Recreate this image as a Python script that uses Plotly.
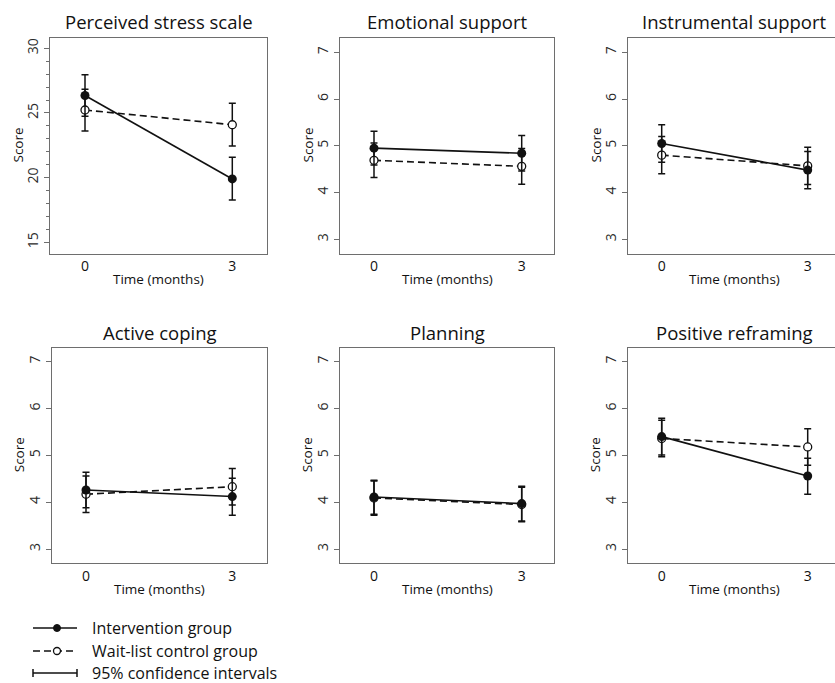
import plotly.graph_objects as go

# ---------------- data ----------------
panel_titles = ["Perceived stress scale", "Emotional support", "Instrumental support",
                "Active coping", "Planning", "Positive reframing"]
time_months = [0, 3]
time_labels = ["0", "3"]

int_mean = [[26.35, 19.9], [4.95, 4.84], [5.05, 4.48], [4.26, 4.12], [4.11, 3.97], [5.40, 4.56]]
int_lo   = [[24.75, 18.27], [4.59, 4.46], [4.65, 4.08], [3.88, 3.72], [3.74, 3.60], [5.01, 4.17]]
int_hi   = [[27.95, 21.57], [5.31, 5.22], [5.45, 4.88], [4.64, 4.51], [4.47, 4.34], [5.79, 4.94]]

ctl_mean = [[25.23, 24.09], [4.69, 4.56], [4.80, 4.57], [4.17, 4.33], [4.09, 3.95], [5.36, 5.18]]
ctl_lo   = [[23.6, 22.44], [4.32, 4.18], [4.40, 4.17], [3.78, 3.94], [3.72, 3.58], [4.97, 4.79]]
ctl_hi   = [[26.83, 25.75], [5.06, 4.94], [5.20, 4.97], [4.56, 4.72], [4.45, 4.32], [5.75, 5.57]]

legend_labels = ["Intervention group", "Wait-list control group", "95% confidence intervals"]

# ---------------- layout helpers ----------------
W, H = 835, 683
FONT = "Open Sans"
DARK = "#111111"
FRAME = "#6e6e6e"


def px(x):
    return x / W


def py(y):
    return 1 - y / H


# panel frames in pixels: (left, right, top, bottom)
frames = [
    (50, 267, 37.5, 253.5), (340, 554, 37.5, 253.5), (628, 840, 37.5, 253.5),
    (52, 267, 347.5, 563), (340, 554, 347.5, 563), (628, 840, 347.5, 563),
]
# pixel location of x=0 and x=3 in each panel
xpix = [(85, 232.3), (374, 521.7), (661.7, 807.7), (86, 232.3), (374, 521.7), (661.7, 807.7)]
# pixel location of y tick anchors (value, pixel) pairs
yref = [((30, 48.3), (15, 242.3)), ((7, 52.3), (3, 239.3)), ((7, 52.3), (3, 239.3)),
        ((7, 361.7), (3, 549)), ((7, 361.7), (3, 549)), ((7, 361.7), (3, 549))]

fig = go.Figure()
layout = dict(
    width=W, height=H, margin=dict(l=0, r=0, t=0, b=0),
    paper_bgcolor="white", plot_bgcolor="white", showlegend=False,
    font=dict(family=FONT, color=DARK),
)
annotations = []
shapes = []

for i in range(6):
    ax = "" if i == 0 else str(i + 1)
    L, R, T, B = frames[i]
    Rv = min(R, W)
    x0p, x3p = xpix[i]
    sx = (x3p - x0p) / 3.0
    xr = [(L - x0p) / sx, (Rv - x0p) / sx]
    (va, pa), (vb, pb) = yref[i]
    sy = (pb - pa) / (va - vb)
    yr = [vb - (B - pb) / sy, va + (pa - T) / sy]

    xa = dict(domain=[px(L), px(Rv)], range=xr, tickvals=time_months, ticktext=time_labels,
              ticks="", showline=True, linecolor=FRAME, linewidth=1.3, mirror=True,
              showgrid=False, zeroline=False, anchor="y" + ax,
              tickfont=dict(size=14, color=DARK, family=FONT))
    ya = dict(domain=[py(B), py(T)], range=yr, tickangle=-90,
              ticks="outside", ticklen=5, tickcolor=FRAME, tickwidth=1.2,
              showline=True, linecolor=FRAME, linewidth=1.3, mirror=(R <= W),
              showgrid=False, zeroline=False, anchor="x" + ax,
              tickfont=dict(size=14, color="#2a2a2a", family=FONT))
    if i == 0:
        ya.update(tickvals=[15, 20, 25, 30],
                  minor=dict(dtick=1, tick0=15, ticks="outside", ticklen=3,
                             tickcolor=FRAME, tickwidth=1.1))
    else:
        ya.update(tickvals=[3, 4, 5, 6, 7])
    layout["xaxis" + ax] = xa
    layout["yaxis" + ax] = ya

    # control group (dashed, open circles)
    fig.add_trace(go.Scatter(
        x=time_months, y=ctl_mean[i], mode="lines+markers", xaxis="x" + ax, yaxis="y" + ax,
        line=dict(color=DARK, width=1.6, dash="7px,4px"),
        marker=dict(symbol="circle", size=8, color="white", line=dict(color=DARK, width=1.3)),
        error_y=dict(type="data", symmetric=False,
                     array=[h - m for h, m in zip(ctl_hi[i], ctl_mean[i])],
                     arrayminus=[m - l for l, m in zip(ctl_lo[i], ctl_mean[i])],
                     color=DARK, thickness=1.5, width=3.5),
        name=legend_labels[1]))
    # intervention group (solid, filled circles)
    fig.add_trace(go.Scatter(
        x=time_months, y=int_mean[i], mode="lines+markers", xaxis="x" + ax, yaxis="y" + ax,
        line=dict(color=DARK, width=1.6),
        marker=dict(symbol="circle", size=9, color=DARK),
        error_y=dict(type="data", symmetric=False,
                     array=[h - m for h, m in zip(int_hi[i], int_mean[i])],
                     arrayminus=[m - l for l, m in zip(int_lo[i], int_mean[i])],
                     color=DARK, thickness=1.5, width=3.5),
        name=legend_labels[0]))

    # titles and axis labels
    cx = (L + R) / 2
    annotations.append(dict(text=panel_titles[i], x=px(cx), y=py(T - 15.5), xref="paper", yref="paper",
                            showarrow=False, xanchor="center", yanchor="middle",
                            font=dict(size=18.5, color=DARK, family=FONT)))
    annotations.append(dict(text="Score", x=px(L - 33), y=py((T + B) / 2), xref="paper", yref="paper",
                            showarrow=False, textangle=-90, xanchor="center", yanchor="middle",
                            font=dict(size=13.5, color=DARK, family=FONT)))
    annotations.append(dict(text="Time (months)", x=px((x0p + x3p) / 2), y=py(B + 25.5),
                            xref="paper", yref="paper", showarrow=False,
                            xanchor="center", yanchor="middle",
                            font=dict(size=13.5, color=DARK, family=FONT)))

# ---------------- legend (drawn manually) ----------------
leg_y = [628, 651, 673]
lx0, lx1, lmid, ltext = 33, 77, 57, 90
# intervention: solid line + filled dot
shapes.append(dict(type="line", xref="paper", yref="paper", x0=px(lx0), x1=px(lx1),
                   y0=py(leg_y[0]), y1=py(leg_y[0]), line=dict(color=DARK, width=1.5)))
shapes.append(dict(type="circle", xref="paper", yref="paper", x0=px(lmid - 3.5), x1=px(lmid + 3.5),
                   y0=py(leg_y[0] + 3.5), y1=py(leg_y[0] - 3.5), fillcolor=DARK,
                   line=dict(color=DARK, width=1)))
# control: dashed line + open dot
shapes.append(dict(type="line", xref="paper", yref="paper", x0=px(lx0), x1=px(lx1),
                   y0=py(leg_y[1]), y1=py(leg_y[1]), line=dict(color=DARK, width=1.5, dash="7px,4px")))
shapes.append(dict(type="circle", xref="paper", yref="paper", x0=px(lmid - 3.5), x1=px(lmid + 3.5),
                   y0=py(leg_y[1] + 3.5), y1=py(leg_y[1] - 3.5), fillcolor="white",
                   line=dict(color=DARK, width=1.3)))
# confidence interval: line with end caps
shapes.append(dict(type="line", xref="paper", yref="paper", x0=px(lx0), x1=px(lx1),
                   y0=py(leg_y[2]), y1=py(leg_y[2]), line=dict(color=DARK, width=1.5)))
for cxp in (lx0, lx1):
    shapes.append(dict(type="line", xref="paper", yref="paper", x0=px(cxp), x1=px(cxp),
                       y0=py(leg_y[2] - 4), y1=py(leg_y[2] + 4), line=dict(color=DARK, width=1.5)))
for k in range(3):
    annotations.append(dict(text=legend_labels[k], x=px(ltext), y=py(leg_y[k]), xref="paper", yref="paper",
                            showarrow=False, xanchor="left", yanchor="middle",
                            font=dict(size=16, color=DARK, family=FONT)))

layout["annotations"] = annotations
layout["shapes"] = shapes
fig.update_layout(**layout)
fig.write_html("out.html", config={"displayModeBar": False},
               post_script="document.body.style.margin='0';document.body.style.overflow='hidden';")
